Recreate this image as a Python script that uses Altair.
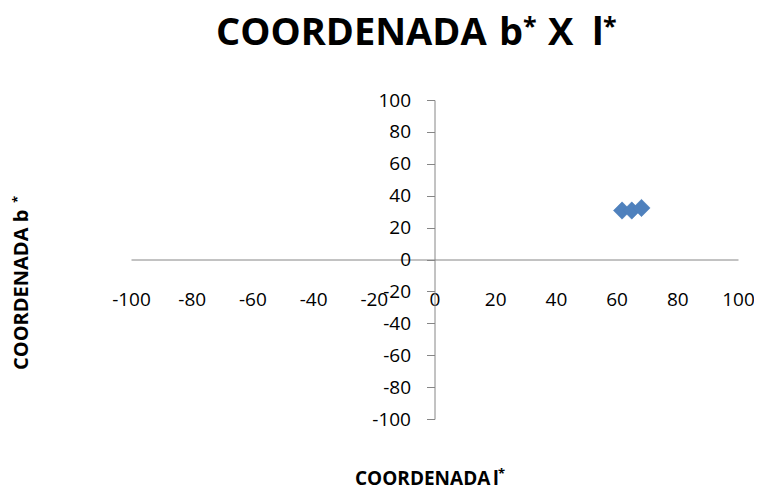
import altair as alt
import pandas as pd

# ---- data ----
l_star = [61.8, 65.0, 68.2]     # COORDENADA l*
b_star = [30.7, 30.7, 32.3]     # COORDENADA b*
tick_values = [-100, -80, -60, -40, -20, 0, 20, 40, 60, 80, 100]

df = pd.DataFrame({"l": l_star, "b": b_star})
one = pd.DataFrame({"k": [0]})

FONT = "Open Sans"
AXIS_GREY = "#868686"
W, H = 607, 319
PAD_L, PAD_T = 123, 92
OX, OY = 8 + PAD_L, 8 + PAD_T   # page position of the plot origin
LABEL_EXPR = "'' + datum.value"  # plain hyphen minus, as in the reference

xs = alt.Scale(domain=[-100, 100], nice=False, zero=False)
ys = alt.Scale(domain=[-100, 100], nice=False, zero=False)

points = alt.Chart(df).mark_point(
    shape="diamond", filled=True, size=300, color="#4F81BD", opacity=1,
    stroke="#4A7EBB", strokeWidth=0.5,
).encode(
    x=alt.X("l:Q", scale=xs, axis=alt.Axis(
        values=tick_values, offset=-H / 2, orient="bottom", grid=False,
        ticks=False, domainColor=AXIS_GREY, domainWidth=1,
        labelPadding=31, labelFont=FONT, labelFontSize=19, labelColor="#000000",
        labelExpr=LABEL_EXPR,
        labelFlush=False, labelOverlap=False, title=None)),
    y=alt.Y("b:Q", scale=ys, axis=alt.Axis(
        values=tick_values, offset=-W / 2, orient="left", grid=False,
        ticks=True, tickSize=8, tickColor=AXIS_GREY, domainColor=AXIS_GREY,
        domainWidth=1, labelPadding=16, labelFont=FONT, labelFontSize=19,
        labelExpr=LABEL_EXPR,
        labelColor="#000000", labelFlush=False, labelOverlap=False, title=None)),
)


def txt(text, px, py, size, angle=0):
    return alt.Chart(one).mark_text(
        text=text, font=FONT, fontSize=size, fontWeight="bold", align="left",
        baseline="alphabetic", angle=angle, color="#000000",
    ).encode(x=alt.value(px - OX), y=alt.value(py - OY))


layers = [
    points,
    # chart title
    txt("COORDENADA", 216, 45, 38),
    txt("b", 499, 45, 38),
    txt("*", 523, 35, 25),
    txt("X", 548, 45, 38),
    txt("l", 592, 45, 38),
    txt("*", 603, 35, 25),
    # x axis title
    txt("COORDENADA", 355, 485, 19),
    txt("l", 493, 485, 19),
    txt("*", 498, 478, 13),
    # y axis title (vertical)
    txt("COORDENADA b", 28, 370, 20, angle=270),
    txt("*", 22, 203, 13, angle=270),
]

chart = alt.layer(*layers).properties(
    width=W, height=H,
    autosize=alt.AutoSizeParams(type="none"),
    padding={"left": PAD_L, "top": PAD_T, "right": 16, "bottom": 72},
    background="white",
).configure_view(stroke=None)

chart.save("out.html", embed_options={"renderer": "svg", "actions": False})
